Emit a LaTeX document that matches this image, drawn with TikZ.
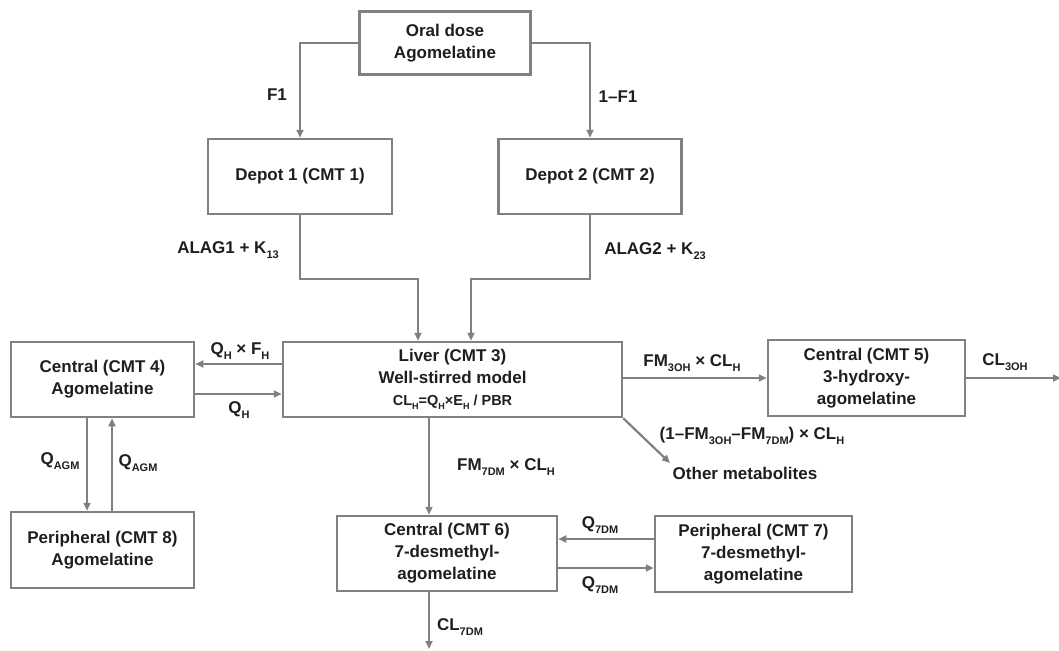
\documentclass[tikz,border=0pt]{standalone}
\usepackage{fontspec}
\setmainfont{Liberation Sans}
\usetikzlibrary{arrows.meta,calc}
\definecolor{lc}{RGB}{128,128,128}
\definecolor{tc}{RGB}{30,30,30}
\newcommand\lo[1]{\raisebox{-0.25em}{\fontsize{11}{11}\selectfont #1}}
\newcommand\los[1]{\raisebox{-0.25em}{\fontsize{9}{9}\selectfont #1}}
\begin{document}
\begin{tikzpicture}[x=1pt,y=-1pt,
 box/.style={draw=lc,line width=2.5pt,inner sep=0pt,align=center,text=tc,font=\bfseries\fontsize{17}{22}\selectfont},
 arr/.style={draw=lc,line width=2.2pt,-{Triangle[length=8pt,width=7pt]}},
 lab/.style={text=tc,font=\bfseries\fontsize{17}{20}\selectfont,inner sep=0pt}]
\useasboundingbox (0,0) rectangle (1059,650);
% boxes
\node[box,minimum width=171pt,minimum height=63pt] (oral) at (445,43) {Oral dose\\Agomelatine};
\node[box,minimum width=184pt,minimum height=75pt] (dep1) at (300,176.5) {Depot 1 (CMT 1)};
\node[box,minimum width=183pt,minimum height=75pt] (dep2) at (590,176.5) {Depot 2 (CMT 2)};
\node[box,minimum width=339pt,minimum height=75pt] (liver) at (452.5,379.5) {Liver (CMT 3)\\Well-stirred model\\{\fontsize{14.5}{16}\selectfont CL\los{H}=Q\los{H}×E\los{H} / PBR}};
\node[box,minimum width=183pt,minimum height=75pt] (c4) at (102.5,379.5) {Central (CMT 4)\\Agomelatine};
\node[box,minimum width=183pt,minimum height=76pt] (p8) at (102.5,550) {Peripheral (CMT 8)\\Agomelatine};
\node[box,minimum width=197pt,minimum height=76pt] (c5) at (866.5,378) {Central (CMT 5)\\3-hydroxy-\\agomelatine};
\node[box,minimum width=220pt,minimum height=75pt] (c6) at (447,553.5) {Central (CMT 6)\\7-desmethyl-\\agomelatine};
\node[box,minimum width=197pt,minimum height=76pt] (c7) at (753.5,554) {Peripheral (CMT 7)\\7-desmethyl-\\agomelatine};
% helper coordinates
\coordinate (j1) at (418,279);
\coordinate (j2) at (471,279);
\coordinate (hu) at (0,364);
\coordinate (hd) at (0,394);
\coordinate (va) at (87,0);
\coordinate (vb) at (112,0);
\coordinate (vl) at (429,0);
\coordinate (e7) at (429,649);
\coordinate (e3) at (1061,378);
\coordinate (om) at (670,463);
\coordinate (qu) at (0,539);
\coordinate (qd) at (0,568);
% connectors
\draw[arr] (oral.west) -| (dep1.north);
\draw[arr] (oral.east) -| (dep2.north);
\draw[arr] (dep1.south) |- (j1) -- (j1 |- liver.north);
\draw[arr] (dep2.south) |- (j2) -- (j2 |- liver.north);
\draw[arr] (liver.west |- hu) -- (c4.east |- hu);
\draw[arr] (c4.east |- hd) -- (liver.west |- hd);
\draw[arr] (c4.south -| va) -- (p8.north -| va);
\draw[arr] (p8.north -| vb) -- (c4.south -| vb);
\draw[arr] (liver.south -| vl) -- (c6.north -| vl);
\draw[arr] (c6.south -| vl) -- (e7);
\draw[arr] (liver.east |- c5.west) -- (c5.west);
\draw[arr] (c5.east) -- (e3);
\draw[arr] (liver.south east) -- (om);
\draw[arr] (c7.west |- qu) -- (c6.east |- qu);
\draw[arr] (c6.east |- qd) -- (c7.west |- qd);
% labels
\node[lab] (lf1) at (277,95) {F1};
\node[lab] (lf2) at (618,97) {1–F1};
\node[lab] (la1) at (228,250) {ALAG1 + K\lo{13}};
\node[lab] (la2) at (655,251) {ALAG2 + K\lo{23}};
\node[lab] (lqf) at (240,351) {Q\lo{H} × F\lo{H}};
\node[lab] (lqh) at (239,410) {Q\lo{H}};
\node[lab] (lqa1) at (60,461) {Q\lo{AGM}};
\node[lab] (lqa2) at (138,463) {Q\lo{AGM}};
\node[lab] (lfm7) at (506,467) {FM\lo{7DM} × CL\lo{H}};
\node[lab] (lcl7) at (460,627) {CL\lo{7DM}};
\node[lab] (lfm3) at (692,363) {FM\lo{3OH} × CL\lo{H}};
\node[lab] (lcl3) at (1005,362) {CL\lo{3OH}};
\node[lab] (lrest) at (752,436) {(1–FM\lo{3OH}–FM\lo{7DM}) × CL\lo{H}};
\node[lab] (lom) at (745,473) {Other metabolites};
\node[lab] (lq7u) at (600,525) {Q\lo{7DM}};
\node[lab] (lq7d) at (600,585) {Q\lo{7DM}};
\end{tikzpicture}
\end{document}
